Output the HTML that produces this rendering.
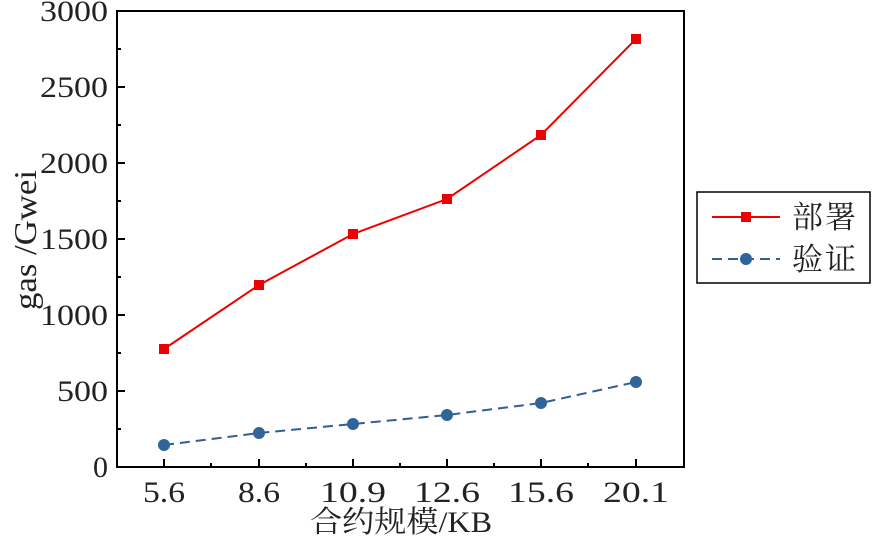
<!DOCTYPE html><html><head><style>body{margin:0;background:#fff}svg{display:block}text{font-family:"Liberation Serif","Noto Serif CJK SC",serif;fill:#222}</style></head><body>
<svg width="875" height="538" xmlns="http://www.w3.org/2000/svg">
<rect x="117" y="11" width="567" height="456" fill="none" stroke="#000" stroke-width="2"/>
<g stroke="#000" stroke-width="2">
<line x1="117" y1="391" x2="125" y2="391"/><line x1="117" y1="315" x2="125" y2="315"/><line x1="117" y1="239" x2="125" y2="239"/><line x1="117" y1="163" x2="125" y2="163"/><line x1="117" y1="87" x2="125" y2="87"/>
<line x1="117" y1="429" x2="121" y2="429"/><line x1="117" y1="353" x2="121" y2="353"/><line x1="117" y1="277" x2="121" y2="277"/><line x1="117" y1="201" x2="121" y2="201"/><line x1="117" y1="125" x2="121" y2="125"/><line x1="117" y1="49" x2="121" y2="49"/>
<line x1="164" y1="467" x2="164" y2="459"/><line x1="259" y1="467" x2="259" y2="459"/><line x1="353" y1="467" x2="353" y2="459"/><line x1="447" y1="467" x2="447" y2="459"/><line x1="541" y1="467" x2="541" y2="459"/><line x1="636" y1="467" x2="636" y2="459"/>
<line x1="211" y1="467" x2="211" y2="463"/><line x1="306" y1="467" x2="306" y2="463"/><line x1="400" y1="467" x2="400" y2="463"/><line x1="494" y1="467" x2="494" y2="463"/><line x1="588" y1="467" x2="588" y2="463"/>
</g>
<g font-size="30" text-anchor="end" lengthAdjust="spacingAndGlyphs">
<text x="108" y="477">0</text><text x="108" y="401" textLength="51" lengthAdjust="spacingAndGlyphs">500</text><text x="108" y="325" textLength="68" lengthAdjust="spacingAndGlyphs">1000</text><text x="108" y="249" textLength="68" lengthAdjust="spacingAndGlyphs">1500</text><text x="108" y="173" textLength="68" lengthAdjust="spacingAndGlyphs">2000</text><text x="108" y="97" textLength="68" lengthAdjust="spacingAndGlyphs">2500</text><text x="108" y="21" textLength="68" lengthAdjust="spacingAndGlyphs">3000</text></g>
<g font-size="30">
<text x="143" y="502" textLength="42" lengthAdjust="spacingAndGlyphs">5.6</text><text x="238" y="502" textLength="42" lengthAdjust="spacingAndGlyphs">8.6</text><text x="320" y="502" textLength="66" lengthAdjust="spacingAndGlyphs">10.9</text><text x="414" y="502" textLength="66" lengthAdjust="spacingAndGlyphs">12.6</text><text x="508" y="502" textLength="66" lengthAdjust="spacingAndGlyphs">15.6</text><text x="603" y="502" textLength="66" lengthAdjust="spacingAndGlyphs">20.1</text>
<text x="310" y="532" textLength="182" lengthAdjust="spacingAndGlyphs">合约规模/KB</text></g>
<text transform="translate(36,310) rotate(-90)" font-size="32" textLength="140" lengthAdjust="spacingAndGlyphs">gas /Gwei</text>
<polyline points="164,349 259,285 353,234 447,199 541,135 636,39" fill="none" stroke="#e00" stroke-width="2"/>
<g fill="#e00"><rect x="159" y="344" width="10" height="10"/><rect x="254" y="280" width="10" height="10"/><rect x="348" y="229" width="10" height="10"/><rect x="442" y="194" width="10" height="10"/><rect x="536" y="130" width="10" height="10"/><rect x="631" y="34" width="10" height="10"/></g>
<polyline points="164,445 259,433 353,424 447,415 541,403 636,382" fill="none" stroke="#2f5f94" stroke-width="2" stroke-dasharray="10,6"/>
<g fill="#2f6599"><circle cx="164" cy="445" r="6"/><circle cx="259" cy="433" r="6"/><circle cx="353" cy="424" r="6"/><circle cx="447" cy="415" r="6"/><circle cx="541" cy="403" r="6"/><circle cx="636" cy="382" r="6"/></g>
<rect x="697" y="192" width="173" height="91" fill="#fff" stroke="#000" stroke-width="1.5"/>
<line x1="712" y1="217" x2="780" y2="217" stroke="#e00" stroke-width="2"/><rect x="741" y="212" width="10" height="10" fill="#e00"/>
<line x1="712" y1="259" x2="780" y2="259" stroke="#2f5f94" stroke-width="2" stroke-dasharray="10,6"/><circle cx="746" cy="259" r="6" fill="#2f6599"/>
<text x="792" y="228" font-size="31" textLength="64">部署</text><text x="792" y="270" font-size="31" textLength="64">验证</text>
</svg></body></html>
